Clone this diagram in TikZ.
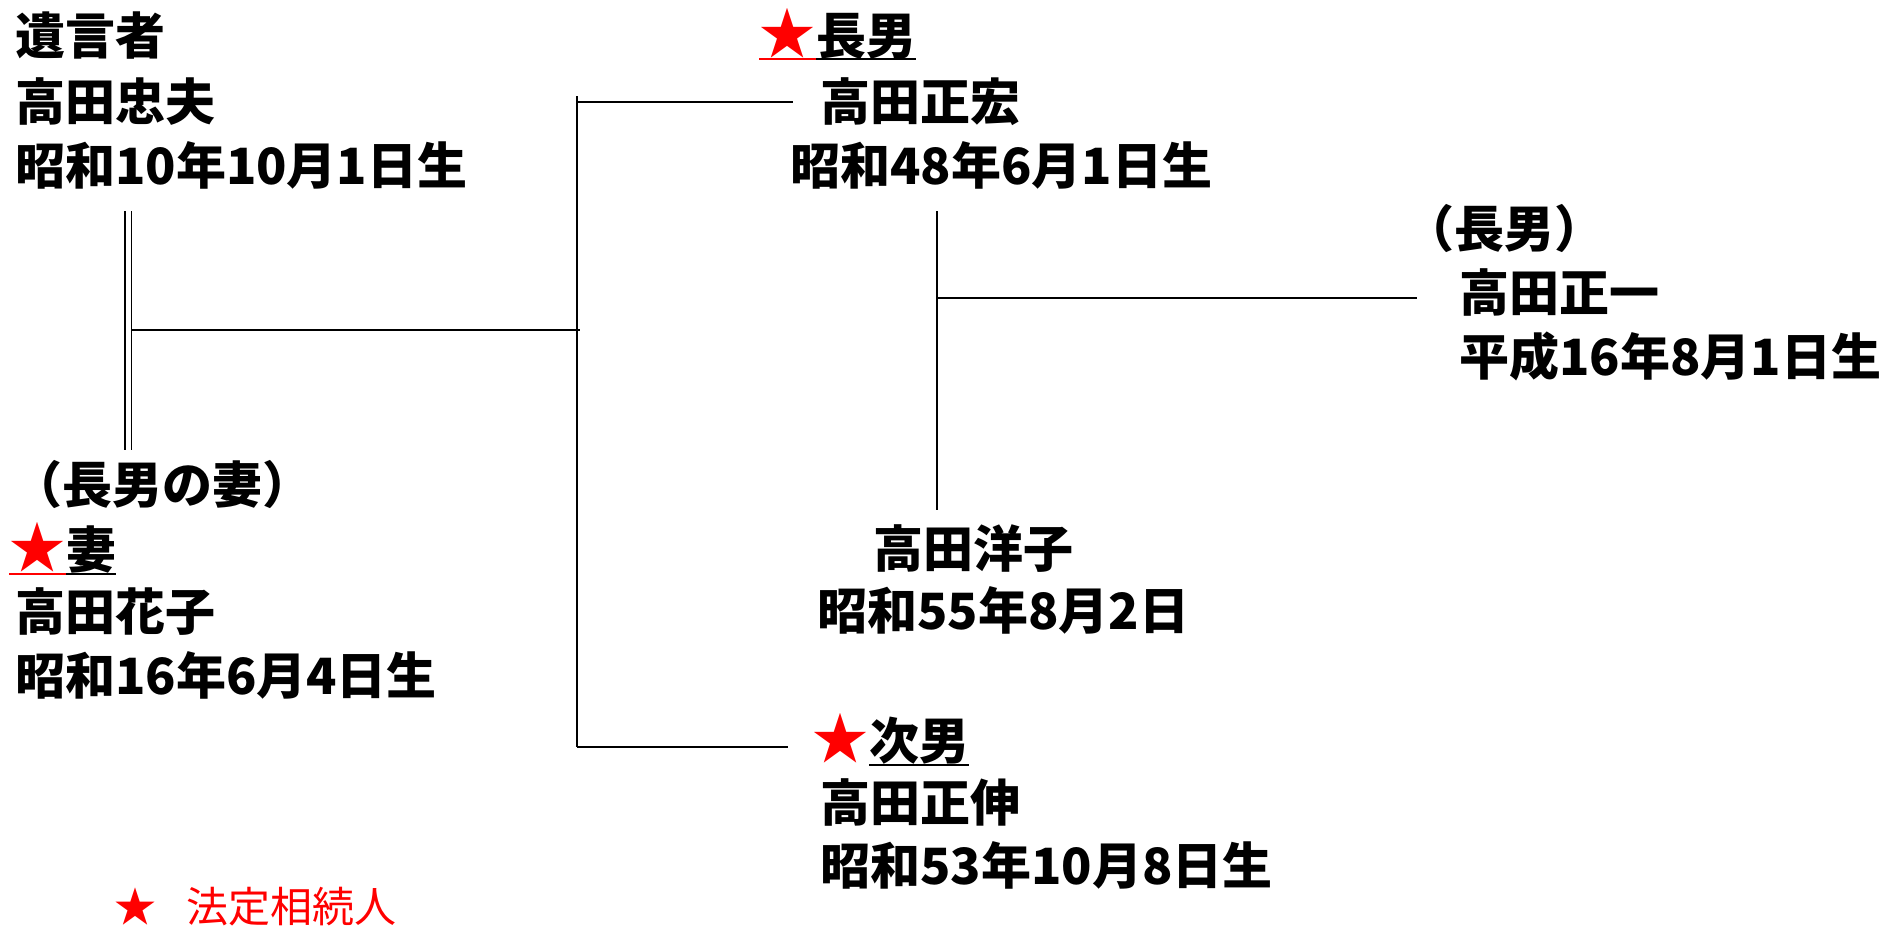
\documentclass[tikz,border=0pt]{standalone}
\usepackage{fontspec}
\newfontfamily\jpfont{Noto Sans CJK JP}
\usetikzlibrary{positioning}
\tikzset{%
    person/.style={anchor=west, inner sep=0pt,
        font=\jpfont\bfseries\fontsize{50}{60}\selectfont},
    heirstar/.style={anchor=west, inner sep=0pt, text=red,
        font=\jpfont\fontsize{56}{66}\selectfont},
    legend/.style={anchor=west, inner sep=0pt, text=red,
        font=\jpfont\fontsize{42}{50}\selectfont},
    relation/.style={line width=2pt},
    couple/.style={double, double distance=5pt, line width=1.6pt}
}

\begin{document}
\begin{tikzpicture}[x=1pt, y=-1pt]

    \useasboundingbox (0, 0) rectangle (1883, 926);

    \node[person] (testator) at (15, 36) {遺言者};
    \node[person] (tadao) at (15, 102) {高田忠夫};
    \node[person] (tadaobirth) at (15, 165) {昭和10年10月1日生};

    \node[person] (wifenote) at (12, 484) {（長男の妻）};
    \node[heirstar] (wifestar) at (9, 547) {★};
    \node[person] (wifelabel) at (66, 550) {妻};
    \node[person] (hanako) at (15, 612) {高田花子};
    \node[person] (hanakobirth) at (15, 675) {昭和16年6月4日生};

    \node[heirstar] (sonstar) at (759, 33) {★};
    \node[person] (sonlabel) at (816, 36) {長男};
    \node[person] (masahiro) at (820, 102) {高田正宏};
    \node[person] (masahirobirth) at (790, 165) {昭和48年6月1日生};

    \node[person] (yoko) at (873, 549) {高田洋子};
    \node[person] (yokobirth) at (817, 610) {昭和55年8月2日};

    \node[heirstar] (son2star) at (812, 738) {★};
    \node[person] (son2label) at (869, 741) {次男};
    \node[person] (masanobu) at (820, 802) {高田正伸};
    \node[person] (masanobubirth) at (820, 865) {昭和53年10月8日生};

    \node[person] (grandnote) at (1404, 228) {（長男）};
    \node[person] (shoichi) at (1459, 292) {高田正一};
    \node[person] (shoichibirth) at (1459, 356) {平成16年8月1日生};

    \node[legend] (legendstar) at (114, 907) {★};
    \node[legend] (legendtext) at (186, 907) {法定相続人};

    \draw[relation, red] (wifestar.west |- wifelabel.south) --
        (wifelabel.south west);
    \draw[relation] (wifelabel.south west) -- (wifelabel.south east);
    \draw[relation, red] (sonstar.west |- sonlabel.south) --
        (sonlabel.south west);
    \draw[relation] (sonlabel.south west) -- (sonlabel.south east);
    \draw[relation] (son2label.south west) -- (son2label.south east);

    \coordinate (couple top) at (128, 211);
    \coordinate (couple bottom) at (128, 450);
    \coordinate (marriage) at (132, 330);
    \coordinate (spine top) at (577, 96);
    \coordinate (spine bottom) at (577, 747);
    \coordinate (son top) at (937, 211);
    \coordinate (son bottom) at (937, 510);
    \coordinate (son branch) at (937, 298);

    \draw[couple] (couple top) -- (couple bottom);
    \draw[relation] (marriage) -- ([xshift=3pt] marriage -| spine top);
    \draw[relation] (spine top) -- (spine bottom);
    \draw[relation] (spine top |- masahiro.west) --
        ([xshift=-27pt] masahiro.west);
    \draw[relation] (spine bottom) -- ([xshift=-24pt] spine bottom -| son2star.west);
    \draw[relation] (son top) -- (son bottom);
    \draw[relation] (son branch) -- ([xshift=-42pt] son branch -| shoichi.west);

\end{tikzpicture}
\end{document}
